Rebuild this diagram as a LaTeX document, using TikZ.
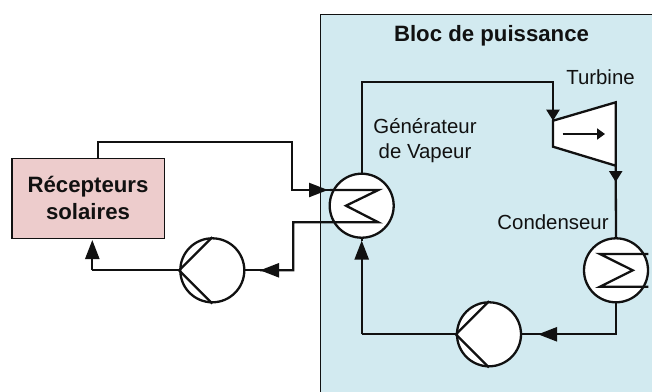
\documentclass[tikz,border=0pt]{standalone}
\usepackage{fontspec}
\setmainfont{Liberation Sans}
\usetikzlibrary{arrows.meta}
\definecolor{panelblue}{HTML}{D2EAF0}
\definecolor{recpink}{HTML}{EDCCCC}
\definecolor{ink}{HTML}{111111}
\tikzset{
  wire/.style={line width=2.3pt,draw=ink,line join=miter},
  tipped/.style={wire,-{Triangle[length=19pt,width=14pt]}},
  smalltip/.style={wire,-{Triangle[length=11pt,width=13pt]}},
  unit/.style={circle,draw=ink,line width=2.3pt,fill=white,minimum size=64pt,inner sep=0pt},
  lbl/.style={font=\fontsize{20.4}{25}\selectfont,text=ink,align=center,inner sep=0pt},
  blbl/.style={font=\fontsize{22.2}{27}\selectfont\bfseries,text=ink,align=center,inner sep=0pt},
}
\begin{document}
\begin{tikzpicture}[x=1pt,y=-1pt]
\useasboundingbox (0,0) rectangle (652,391);
\node[draw=ink,line width=1pt,fill=panelblue,minimum width=340pt,minimum height=385pt,inner sep=0pt,anchor=north west] (panel) at (319.5,14) {};
\node[blbl] (blocT) at (491.5,36) {Bloc de puissance};
\node[draw=ink,line width=1.2pt,fill=recpink,minimum width=152.5pt,minimum height=80pt,inner sep=0pt] (rec) at (88.3,198.3) {};
\node[blbl] (recT) at (88,198) {Récepteurs\\solaires};
\node[unit] (gv) at (361.7,205.7) {};
\node[unit] (cond) at (616,270.3) {};
\node[unit] (pumpA) at (489,334.3) {};
\node[unit] (pumpB) at (212.3,270.3) {};
\node[lbl] (turbT) at (600.5,77) {Turbine};
\node[lbl] (gvT) at (425,141) {Générateur\\de Vapeur};
\node[lbl] (condT) at (553,222.5) {Condenseur};
% turbine
\coordinate (tA) at (553,120.7);
\coordinate (tB) at (615.7,102.3);
\coordinate (tC) at (615.7,165.7);
\coordinate (tD) at (553,146.7);
\draw[wire,fill=white] (tA) -- (tB) -- (tC) -- (tD) -- cycle;
\coordinate (tArrowA) at (562.7,134);
\coordinate (tArrowB) at (605,134);
\draw[wire,-{Triangle[length=8pt,width=11pt]}] (tArrowA) -- (tArrowB);
% internals
\coordinate (gvIn) at (330,190);
\coordinate (gvZ1) at (378.3,190);
\coordinate (gvZ2) at (346,205.7);
\coordinate (gvZ3) at (378.3,222.3);
\coordinate (gvOut) at (293.3,222.3);
\coordinate (gvD) at (293.3,270.3);
\coordinate (pbTip) at (260,270.3);
\draw[wire] (gvIn) -- (gvZ1) -- (gvZ2) -- (gvZ3) -- (gvOut) -- (gvD) -- (pbTip);
\coordinate (cA) at (648.3,254);
\coordinate (cB) at (600,254);
\coordinate (cC) at (632.7,270.3);
\coordinate (cD) at (600,286.7);
\coordinate (cE) at (648.3,286.7);
\draw[wire] (cA) -- (cB) -- (cC) -- (cD) -- (cE);
% pump strokes
\draw[wire] (pumpA.north) -- (pumpA.west) -- (pumpA.south);
\draw[wire] (pumpB.north) -- (pumpB.west) -- (pumpB.south);
% arrows on wires
\draw[tipped] (gvD) -- (pbTip);
\draw[wire] (pbTip) -- (pumpB.east);
\coordinate (recInC) at (92.3,270.3);
\coordinate (recTip) at (92.3,240);
\draw[wire] (pumpB.west) -- (recInC);
\draw[tipped] (recInC) -- (recTip);
\coordinate (recOut) at (97.7,158.3);
\coordinate (r1) at (97.7,142.3);
\coordinate (r2) at (292.3,142.3);
\coordinate (r3) at (292.3,190);
\coordinate (rTip) at (328,190);
\draw[wire] (recOut) -- (r1) -- (r2) -- (r3) -- (gvIn);
\draw[tipped] (r3) -- (rTip);
\coordinate (top1) at (361.7,82.3);
\coordinate (top2) at (553,82.3);
\draw[wire] (gv.north) -- (top1) -- (top2) -- (tA);
\draw[smalltip] (top2) -- (tA);
\coordinate (tc) at (615.7,182);
\draw[wire] (tC) -- (cond.north);
\draw[smalltip] (tC) -- (tc);
\coordinate (c1) at (616,334.3);
\coordinate (pTip) at (538,334.3);
\draw[wire] (cond.south) -- (c1) -- (pTip) -- (pumpA.east);
\draw[tipped] (c1) -- (pTip);
\coordinate (g1) at (361.7,334.3);
\coordinate (gTip) at (361.7,240.5);
\draw[wire] (pumpA.west) -- (g1);
\draw[tipped] (g1) -- (gTip);
\draw[wire] (gTip) -- (gv.south);
\end{tikzpicture}
\end{document}
